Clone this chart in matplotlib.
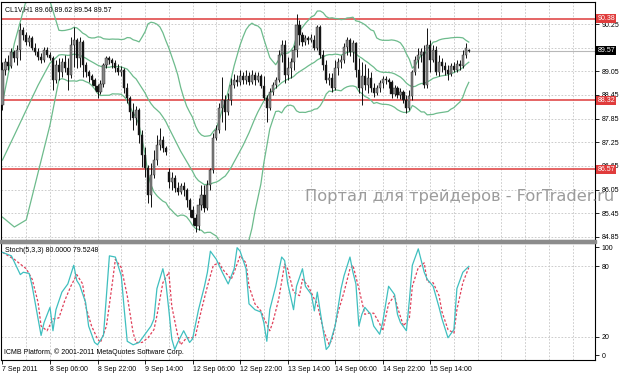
import matplotlib
matplotlib.use("Agg")
import matplotlib.pyplot as plt
import matplotlib.transforms as mtrans
from matplotlib.patches import Rectangle
import pandas as pd

# CL1V H1 candles, 7 Sep 2011 14:00 onwards
opens = [88.20, 89.08, 89.29, 89.18, 89.54, 89.39, 89.59, 90.10, 89.97, 89.79,
         89.90, 89.64, 89.54, 89.41, 89.34, 89.59, 89.46, 89.39, 88.83, 89.21,
         89.03, 89.29, 89.13, 88.96, 89.72, 89.85, 89.39, 89.79, 89.21, 89.03,
         88.93, 88.83, 88.68, 88.52, 88.73, 89.21, 89.39, 89.34, 89.26, 89.13,
         89.03, 89.08, 88.63, 88.37, 88.02, 87.87, 88.07, 87.43, 86.93, 86.60,
         85.91, 86.42, 86.80, 87.18, 87.31, 87.10, 86.49, 86.24, 86.34, 86.09,
         85.99, 86.14, 86.04, 85.78, 85.53, 85.33, 85.12, 85.66, 85.91, 85.58,
         86.17, 86.55, 87.36, 87.56, 88.12, 88.32, 88.02, 88.32, 88.70, 88.83,
         88.78, 88.93, 88.83, 88.93, 88.78, 88.96, 88.83, 88.93, 88.68, 88.37,
         88.12, 88.52, 88.70, 88.83, 89.46, 89.72, 88.96, 89.13, 89.29, 89.59,
         90.23, 89.97, 89.79, 89.90, 89.85, 89.85, 89.64, 90.17, 89.46, 89.21,
         88.83, 88.88, 88.63, 89.13, 89.29, 89.34, 89.67, 89.85, 89.54, 89.77,
         89.08, 88.63, 88.93, 88.70, 88.88, 88.63, 88.50, 88.63, 88.75, 88.85,
         88.83, 88.78, 88.47, 88.63, 88.45, 88.52, 88.32, 88.12, 88.42, 89.03,
         89.34, 89.46, 89.54, 88.70, 89.72, 89.34, 89.59, 89.03, 89.29, 89.18,
         89.08, 88.98, 89.18, 89.08, 89.24, 89.18, 89.46, 89.60]
highs = [89.29, 89.39, 89.46, 89.64, 89.59, 89.72, 90.28, 90.17, 90.05, 89.97,
         89.95, 89.77, 89.64, 89.51, 89.67, 89.67, 89.54, 89.44, 89.34, 89.39,
         89.39, 89.46, 89.39, 89.92, 90.17, 89.90, 89.92, 89.85, 89.29, 89.08,
         88.98, 88.88, 88.73, 88.83, 89.26, 89.44, 89.44, 89.39, 89.34, 89.24,
         89.18, 89.13, 88.75, 88.42, 88.25, 88.17, 88.12, 87.56, 87.13, 86.67,
         86.72, 87.05, 87.43, 87.61, 87.41, 87.15, 86.60, 86.49, 86.42, 86.24,
         86.22, 86.24, 86.09, 85.83, 85.63, 85.43, 85.83, 86.17, 86.17, 86.29,
         86.60, 87.48, 87.69, 88.25, 88.90, 88.45, 88.50, 88.88, 88.98, 88.96,
         89.08, 89.03, 89.08, 89.03, 89.08, 89.03, 89.03, 88.98, 88.93, 88.45,
         88.63, 88.78, 88.90, 89.59, 89.85, 89.85, 89.41, 89.39, 89.72, 90.50,
         90.35, 90.05, 89.97, 89.95, 90.00, 89.97, 90.23, 90.23, 89.59, 89.34,
         89.01, 89.01, 89.34, 89.39, 89.46, 89.77, 89.92, 89.90, 89.85, 89.79,
         89.39, 89.29, 89.24, 89.13, 89.03, 88.75, 88.70, 88.83, 88.93, 88.93,
         88.88, 88.83, 88.70, 88.68, 88.63, 88.58, 88.45, 88.58, 89.08, 89.44,
         89.64, 89.64, 89.72, 90.15, 89.85, 89.72, 89.69, 89.46, 89.39, 89.29,
         89.21, 89.26, 89.29, 89.34, 89.34, 89.59, 89.77, 89.62]
lows = [88.07, 88.96, 89.08, 89.13, 89.29, 89.21, 89.34, 89.85, 89.72, 89.69,
        89.59, 89.46, 89.34, 89.26, 89.29, 89.41, 89.34, 88.58, 88.75, 88.83,
        88.90, 89.03, 88.58, 88.88, 89.16, 89.13, 89.16, 88.90, 88.90, 88.78,
        88.70, 88.58, 88.37, 88.47, 88.65, 89.13, 89.24, 89.13, 89.03, 88.96,
        88.93, 88.50, 88.25, 87.81, 87.56, 87.69, 87.23, 86.62, 86.37, 85.71,
        85.61, 86.34, 86.67, 87.05, 87.00, 86.93, 86.09, 86.04, 85.99, 85.91,
        85.94, 85.89, 85.61, 85.35, 85.15, 84.97, 85.02, 85.53, 85.48, 85.53,
        86.04, 86.47, 87.31, 87.48, 87.76, 87.56, 87.94, 88.20, 88.63, 88.68,
        88.70, 88.73, 88.73, 88.70, 88.73, 88.70, 88.78, 88.63, 88.32, 87.76,
        88.07, 88.45, 88.63, 88.78, 89.29, 88.75, 88.83, 88.88, 89.08, 89.41,
        89.72, 89.69, 89.72, 89.74, 89.79, 89.59, 89.59, 89.39, 89.08, 88.75,
        88.70, 88.52, 88.58, 88.96, 89.13, 89.26, 89.46, 89.44, 89.29, 88.90,
        88.50, 88.20, 88.58, 88.50, 88.52, 88.40, 88.45, 88.52, 88.63, 88.73,
        88.63, 88.37, 88.42, 88.37, 88.35, 88.25, 87.99, 88.07, 88.32, 88.96,
        89.13, 89.29, 88.63, 88.63, 89.03, 89.29, 88.96, 88.93, 89.03, 88.96,
        88.83, 88.93, 89.03, 89.03, 89.08, 89.13, 89.39, 89.54]
closes = [89.08, 89.29, 89.18, 89.54, 89.39, 89.59, 90.10, 89.97, 89.79, 89.90,
          89.64, 89.54, 89.41, 89.34, 89.59, 89.46, 89.39, 88.83, 89.21, 89.03,
          89.29, 89.13, 88.96, 89.72, 89.85, 89.39, 89.79, 89.21, 89.03, 88.93,
          88.83, 88.68, 88.52, 88.73, 89.21, 89.39, 89.34, 89.26, 89.13, 89.03,
          89.08, 88.63, 88.37, 88.02, 87.87, 88.07, 87.43, 86.93, 86.60, 85.91,
          86.42, 86.80, 87.18, 87.31, 87.10, 87.00, 86.24, 86.34, 86.09, 85.99,
          86.14, 86.04, 85.78, 85.53, 85.33, 85.12, 85.66, 85.91, 85.58, 86.17,
          86.55, 87.36, 87.56, 88.12, 88.32, 88.02, 88.32, 88.70, 88.83, 88.78,
          88.93, 88.83, 88.93, 88.78, 88.96, 88.83, 88.93, 88.68, 88.37, 88.12,
          88.52, 88.70, 88.83, 89.46, 89.72, 88.96, 89.13, 89.29, 89.59, 90.23,
          89.97, 89.79, 89.90, 89.85, 89.90, 89.64, 90.17, 89.46, 89.21, 88.83,
          88.88, 88.63, 89.13, 89.29, 89.34, 89.67, 89.85, 89.54, 89.77, 89.08,
          88.63, 88.93, 88.70, 88.88, 88.63, 88.50, 88.63, 88.75, 88.85, 88.83,
          88.78, 88.47, 88.63, 88.45, 88.52, 88.32, 88.12, 88.42, 89.03, 89.34,
          89.46, 89.54, 88.70, 89.72, 89.34, 89.59, 89.03, 89.29, 89.18, 89.08,
          88.98, 89.18, 89.08, 89.24, 89.18, 89.46, 89.64, 89.57]

# Bollinger(20,2) before a full 20-bar window is on screen
bb_head_idx = [0, 4, 8, 12, 16]
bb_head_up = [88.25, 89.76, 90.86, 90.91, 90.83]
bb_head_mid = [86.80, 87.43, 88.07, 88.70, 89.26]
bb_head_dn = [85.35, 85.10, 85.28, 86.49, 87.69]

# horizontal levels and the current price
levels = [90.38, 88.32, 86.57]
last_price = 89.57
price_ticks = [90.25, 89.65, 89.05, 88.45, 87.85, 87.25, 86.65, 86.05, 85.45, 84.85]

# Stochastic(5,3,3): main %K and signal %D
k_idx = [0, 3, 6, 7, 9, 10, 13, 14, 16, 17, 18, 20, 22, 24, 25, 26, 28, 29, 31, 32,
         34, 35, 36, 38, 40, 41, 42, 44, 46, 48, 50, 51, 52, 54, 55, 56, 57, 58, 59, 61,
         63, 64, 66, 68, 69, 70, 72, 74, 76, 78, 79, 80, 82, 83, 85, 87, 88, 89, 90, 92,
         94, 95, 96, 98, 99, 101, 102, 104, 105, 106, 107, 109, 110, 112, 114, 115, 117, 118, 119, 120,
         121, 122, 124, 125, 127, 128, 130, 132, 133, 134, 136, 137, 138, 140, 142, 143, 145, 147, 148, 150,
         152, 153, 155, 157]
k_val = [92, 89, 73, 75, 74, 63, 21, 32, 45, 25, 43, 58, 65, 81, 68, 64, 49, 29, 15, 13,
         21, 55, 89, 88, 72, 43, 16, 13, 15, 22, 29, 35, 61, 78, 66, 43, 18, 9, 15, 25,
         15, 18, 43, 63, 75, 93, 86, 75, 65, 78, 96, 93, 78, 48, 43, 41, 32, 16, 43, 63,
         88, 85, 66, 43, 63, 78, 63, 56, 42, 58, 41, 9, 12, 29, 61, 72, 88, 75, 65, 29,
         39, 45, 39, 29, 22, 32, 63, 56, 39, 32, 25, 51, 81, 95, 75, 69, 63, 45, 35, 19,
         26, 61, 75, 80]
d_idx = [0, 4, 8, 10, 12, 13, 15, 17, 19, 21, 23, 25, 27, 28, 30, 32, 33, 35, 37, 38,
         40, 42, 44, 45, 47, 49, 51, 52, 54, 56, 57, 59, 60, 62, 64, 65, 67, 69, 71, 73,
         74, 77, 78, 80, 82, 83, 85, 87, 88, 90, 91, 93, 95, 96, 98, 100, 101, 103, 105, 106,
         108, 110, 111, 113, 115, 117, 118, 120, 122, 123, 125, 127, 128, 130, 132, 133, 135, 137, 138, 140,
         142, 143, 145, 147, 148, 150, 152, 153, 155, 157]
d_val = [92, 86, 78, 69, 49, 29, 25, 35, 36, 51, 63, 73, 65, 46, 29, 18, 15, 29, 66, 86,
         79, 55, 23, 15, 15, 19, 26, 38, 66, 75, 46, 21, 13, 19, 19, 21, 43, 63, 81, 83,
         78, 69, 75, 89, 83, 63, 48, 42, 36, 25, 32, 52, 82, 78, 58, 55, 69, 63, 52, 48,
         26, 13, 18, 41, 58, 78, 81, 61, 39, 40, 40, 31, 25, 48, 55, 45, 29, 36, 63, 79,
         83, 67, 66, 55, 41, 26, 23, 43, 66, 79]

time_idx = [0, 16, 32, 48, 64, 80, 96, 112, 128, 144]
time_labels = ["7 Sep 2011", "8 Sep 06:00", "8 Sep 22:00", "9 Sep 14:00", "12 Sep 06:00",
               "12 Sep 22:00", "13 Sep 14:00", "14 Sep 06:00", "14 Sep 22:00", "15 Sep 14:00"]

plt.rcParams['font.family'] = ['Liberation Sans', 'DejaVu Sans']
W, H = 623, 373
fs = 5.0
grid_kw = dict(color='#c4c4c4', lw=0.6, ls=(0, (2, 2)), zorder=0)
band_col = '#6dbb8c'

fig = plt.figure(figsize=(W / 100, H / 100), dpi=100)
ax = fig.add_axes([1 / W, 1 - 240 / H, 594 / W, 238 / H])
ax2 = fig.add_axes([1 / W, 1 - 360 / H, 594 / W, 117 / H])
n = len(closes)
x = list(range(n))

# --- price panel
for i in range(8, 200, 8):
    ax.axvline(i, **grid_kw)
for p in price_ticks:
    ax.axhline(p, **grid_kw)
for lv in levels:
    ax.axhline(lv, color='#e04a4a', lw=1.2, zorder=1)
ax.axhline(last_price, color='#b8b8b8', lw=0.8, zorder=1)

c = pd.Series(closes)
mid = c.rolling(20).mean()
sd = c.rolling(20).std(ddof=0)
bx = bb_head_idx + x[19:]
ax.plot(bx, bb_head_up + list((mid + 2 * sd)[19:]), color=band_col, lw=0.9, zorder=2)
ax.plot(bx, bb_head_mid + list(mid[19:]), color=band_col, lw=0.9, zorder=2)
ax.plot(bx, bb_head_dn + list((mid - 2 * sd)[19:]), color=band_col, lw=0.9, zorder=2)

for i in x:
    o, h, l, cl = opens[i], highs[i], lows[i], closes[i]
    ax.vlines(i, l, h, color='#111111', lw=0.7, zorder=3)
    bull = cl >= o
    ax.bar(i, max(abs(cl - o), 0.012), bottom=min(o, cl), width=0.72,
           color='#858585' if bull else '#111111',
           edgecolor='#222222', linewidth=0.3, zorder=4)

ax.set_xlim(-0.5, 199.5)
ax.set_ylim(84.77, 90.81)
ax.yaxis.tick_right()
ax.set_yticks(price_ticks)
# 89.65 sits right under the current-price box, so it gets no label
ax.set_yticklabels(["" if p == 89.65 else f"{p:.2f}" for p in price_ticks])
ax.tick_params(axis='y', labelsize=fs, length=3, pad=1.5, width=0.6)
ax.set_xticks([])
for s in ax.spines.values():
    s.set_linewidth(0.8)

tr = mtrans.blended_transform_factory(ax.transAxes, ax.transData)
for lv in levels:
    ax.text(1.004, lv, f"{lv:.2f}", transform=tr, fontsize=fs, color='white',
            va='center', ha='left', zorder=10, clip_on=False,
            bbox=dict(boxstyle='square,pad=0.15', fc='#e03c3c', ec='none'))
ax.text(1.004, last_price, f"{last_price:.2f}", transform=tr, fontsize=fs, color='white',
        va='center', ha='left', zorder=10, clip_on=False,
        bbox=dict(boxstyle='square,pad=0.15', fc='black', ec='none'))

ax.text(0.007, 0.985, "CL1V,H1 89.60 89.62 89.54 89.57", transform=ax.transAxes,
        fontsize=fs, va='top', ha='left')
fig.text(305 / W, 1 - 196 / H, "Портал для трейдеров - ForTrader.ru", fontsize=11.7,
         color='#9c9c9c', va='center', ha='left', family=['DejaVu Sans'])

# --- stochastic panel
for i in range(8, 200, 8):
    ax2.axvline(i, **grid_kw)
for v in [80, 20]:
    ax2.axhline(v, **grid_kw)
ax2.plot(k_idx, k_val, color='#3fbfbf', lw=0.9, zorder=3)
ax2.plot(d_idx, d_val, color='#e0405a', lw=0.9, ls=(0, (2, 1.5)), zorder=2)
ax2.set_xlim(-0.5, 199.5)
ax2.set_ylim(0, 100)
ax2.yaxis.tick_right()
ax2.set_yticks([96.5, 80, 20, 4])
ax2.set_yticklabels(["100", "80", "20", "0"])
ax2.tick_params(axis='y', labelsize=fs, length=3, pad=1.5, width=0.6)
ax2.set_xticks(time_idx)
ax2.set_xticklabels(time_labels)
ax2.tick_params(axis='x', labelsize=fs, length=3, pad=1, width=0.6)
for lbl in ax2.get_xticklabels():
    lbl.set_ha('left')
for s in ax2.spines.values():
    s.set_linewidth(0.8)
ax2.text(0.007, 0.97, "Stoch(5,3,3) 80.0000 79.5248", transform=ax2.transAxes,
         fontsize=fs, va='top', ha='left')
ax2.text(0.005, 0.03, "ICMB Platform, © 2001-2011 MetaQuotes Software Corp.",
         transform=ax2.transAxes, fontsize=fs, va='bottom', ha='left')

# gray splitter between the two windows
fig.patches.append(Rectangle((0, 1 - 243 / H), 596 / W, 3 / H, transform=fig.transFigure,
                             color='#8c8c8c', zorder=5))

fig.savefig("out.png", dpi=100)
